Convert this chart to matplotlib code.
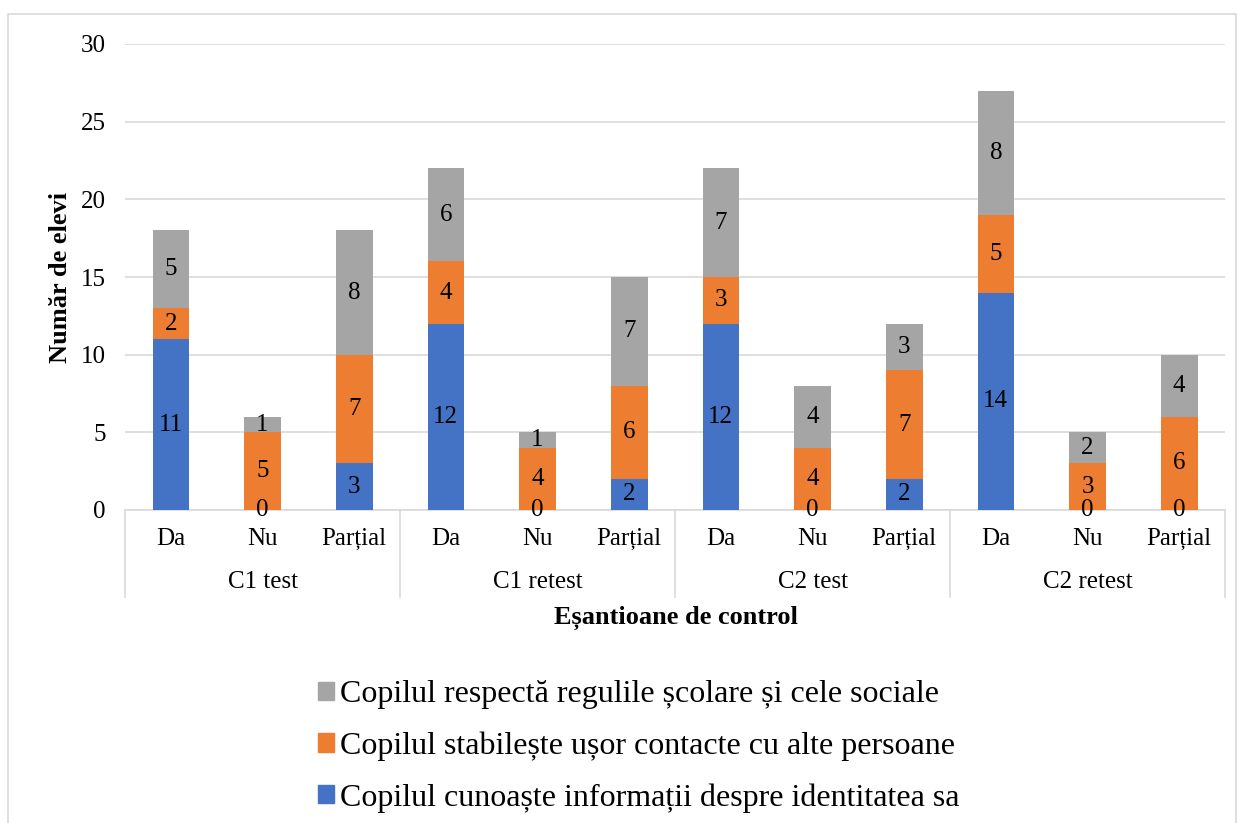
import matplotlib
matplotlib.use("Agg")
import matplotlib.pyplot as plt
from matplotlib.patches import Rectangle, Patch
from matplotlib.lines import Line2D
import numpy as np

groups = ["C1 test", "C1 retest", "C2 test", "C2 retest"]
answers = ["Da", "Nu", "Parțial"]
series_names = [
    "Copilul cunoaște informații despre identitatea sa",
    "Copilul stabilește ușor contacte cu alte persoane",
    "Copilul respectă regulile școlare și cele sociale",
]
blue_vals = [11, 0, 3, 12, 0, 2, 12, 0, 2, 14, 0, 0]
orange_vals = [2, 5, 7, 4, 4, 6, 3, 4, 7, 5, 3, 6]
gray_vals = [5, 1, 8, 6, 1, 7, 7, 4, 3, 8, 2, 4]
y_ticks = [0, 5, 10, 15, 20, 25, 30]

colors = ["#4472C4", "#ED7D31", "#A5A5A5"]
plt.rcParams['font.family'] = ['Liberation Serif', 'DejaVu Serif']

W, H = 1244, 823
FS = 18
FT = 19
FL = 23
fig = plt.figure(figsize=(W / 100, H / 100), dpi=100)
fig.patches.append(Rectangle((8 / W, -0.05), 1228 / W, 1 - 14 / H + 0.05,
                             transform=fig.transFigure, fill=False,
                             edgecolor="#D9D9D9", linewidth=1.2))

ax = fig.add_axes([125 / W, (H - 510) / H, 1100 / W, 466 / H])
x = np.arange(len(blue_vals))
bottom = np.zeros(len(x))
all_vals = [blue_vals, orange_vals, gray_vals]
for si, (vals, c) in enumerate(zip(all_vals, colors)):
    vals = np.array(vals, dtype=float)
    ax.bar(x, vals, 0.40, bottom=bottom, color=c, zorder=3, label=series_names[si])
    for xi, v, b in zip(x, vals, bottom):
        if v > 0 or si == 0:
            ax.text(xi, b + v / 2, f"{int(v)}", ha="center", va="center",
                    fontsize=FS, color="black", zorder=4)
    bottom += vals

ax.set_xlim(-0.5, len(x) - 0.5)
ax.set_ylim(0, 30)
ax.set_yticks(y_ticks)
ax.tick_params(axis="y", length=0, pad=14, labelsize=FS)
ax.tick_params(axis="x", length=0, labelbottom=False)
ax.grid(axis="y", color="#D9D9D9", linewidth=1.2, zorder=0)
for s in ["left", "right", "top"]:
    ax.spines[s].set_visible(False)
ax.spines["bottom"].set_color("#D9D9D9")
ax.spines["bottom"].set_linewidth(1.2)

trans = ax.get_xaxis_transform()
for xi in x:
    ax.text(xi, -29 / 466, answers[xi % 3], ha="center", va="center",
            fontsize=FS, transform=trans)
for gi, g in enumerate(groups):
    ax.text(gi * 3 + 1, -72 / 466, g, ha="center", va="center",
            fontsize=FS, transform=trans)
for b in range(len(groups) + 1):
    xb = b * 3 - 0.5
    ax.add_line(Line2D([xb, xb], [0, -87 / 466], transform=trans,
                       color="#D9D9D9", linewidth=1.2, clip_on=False))

ax.set_ylabel("Număr de elevi", fontsize=FT, fontweight="bold", labelpad=6)
fig.text(676 / W, (H - 618) / H, "Eșantioane de control", ha="center",
         va="center", fontsize=FT, fontweight="bold")

handles = [Patch(color=colors[i]) for i in [2, 1, 0]]
labels = [series_names[i] for i in [2, 1, 0]]
fig.legend(handles, labels, loc="upper left",
           bbox_to_anchor=(302 / W, (H - 664) / H), frameon=False,
           fontsize=FL, handlelength=0.5, handleheight=0.5,
           handletextpad=0.2, labelspacing=0.70, borderpad=0)

fig.savefig("out.png", dpi=100)
